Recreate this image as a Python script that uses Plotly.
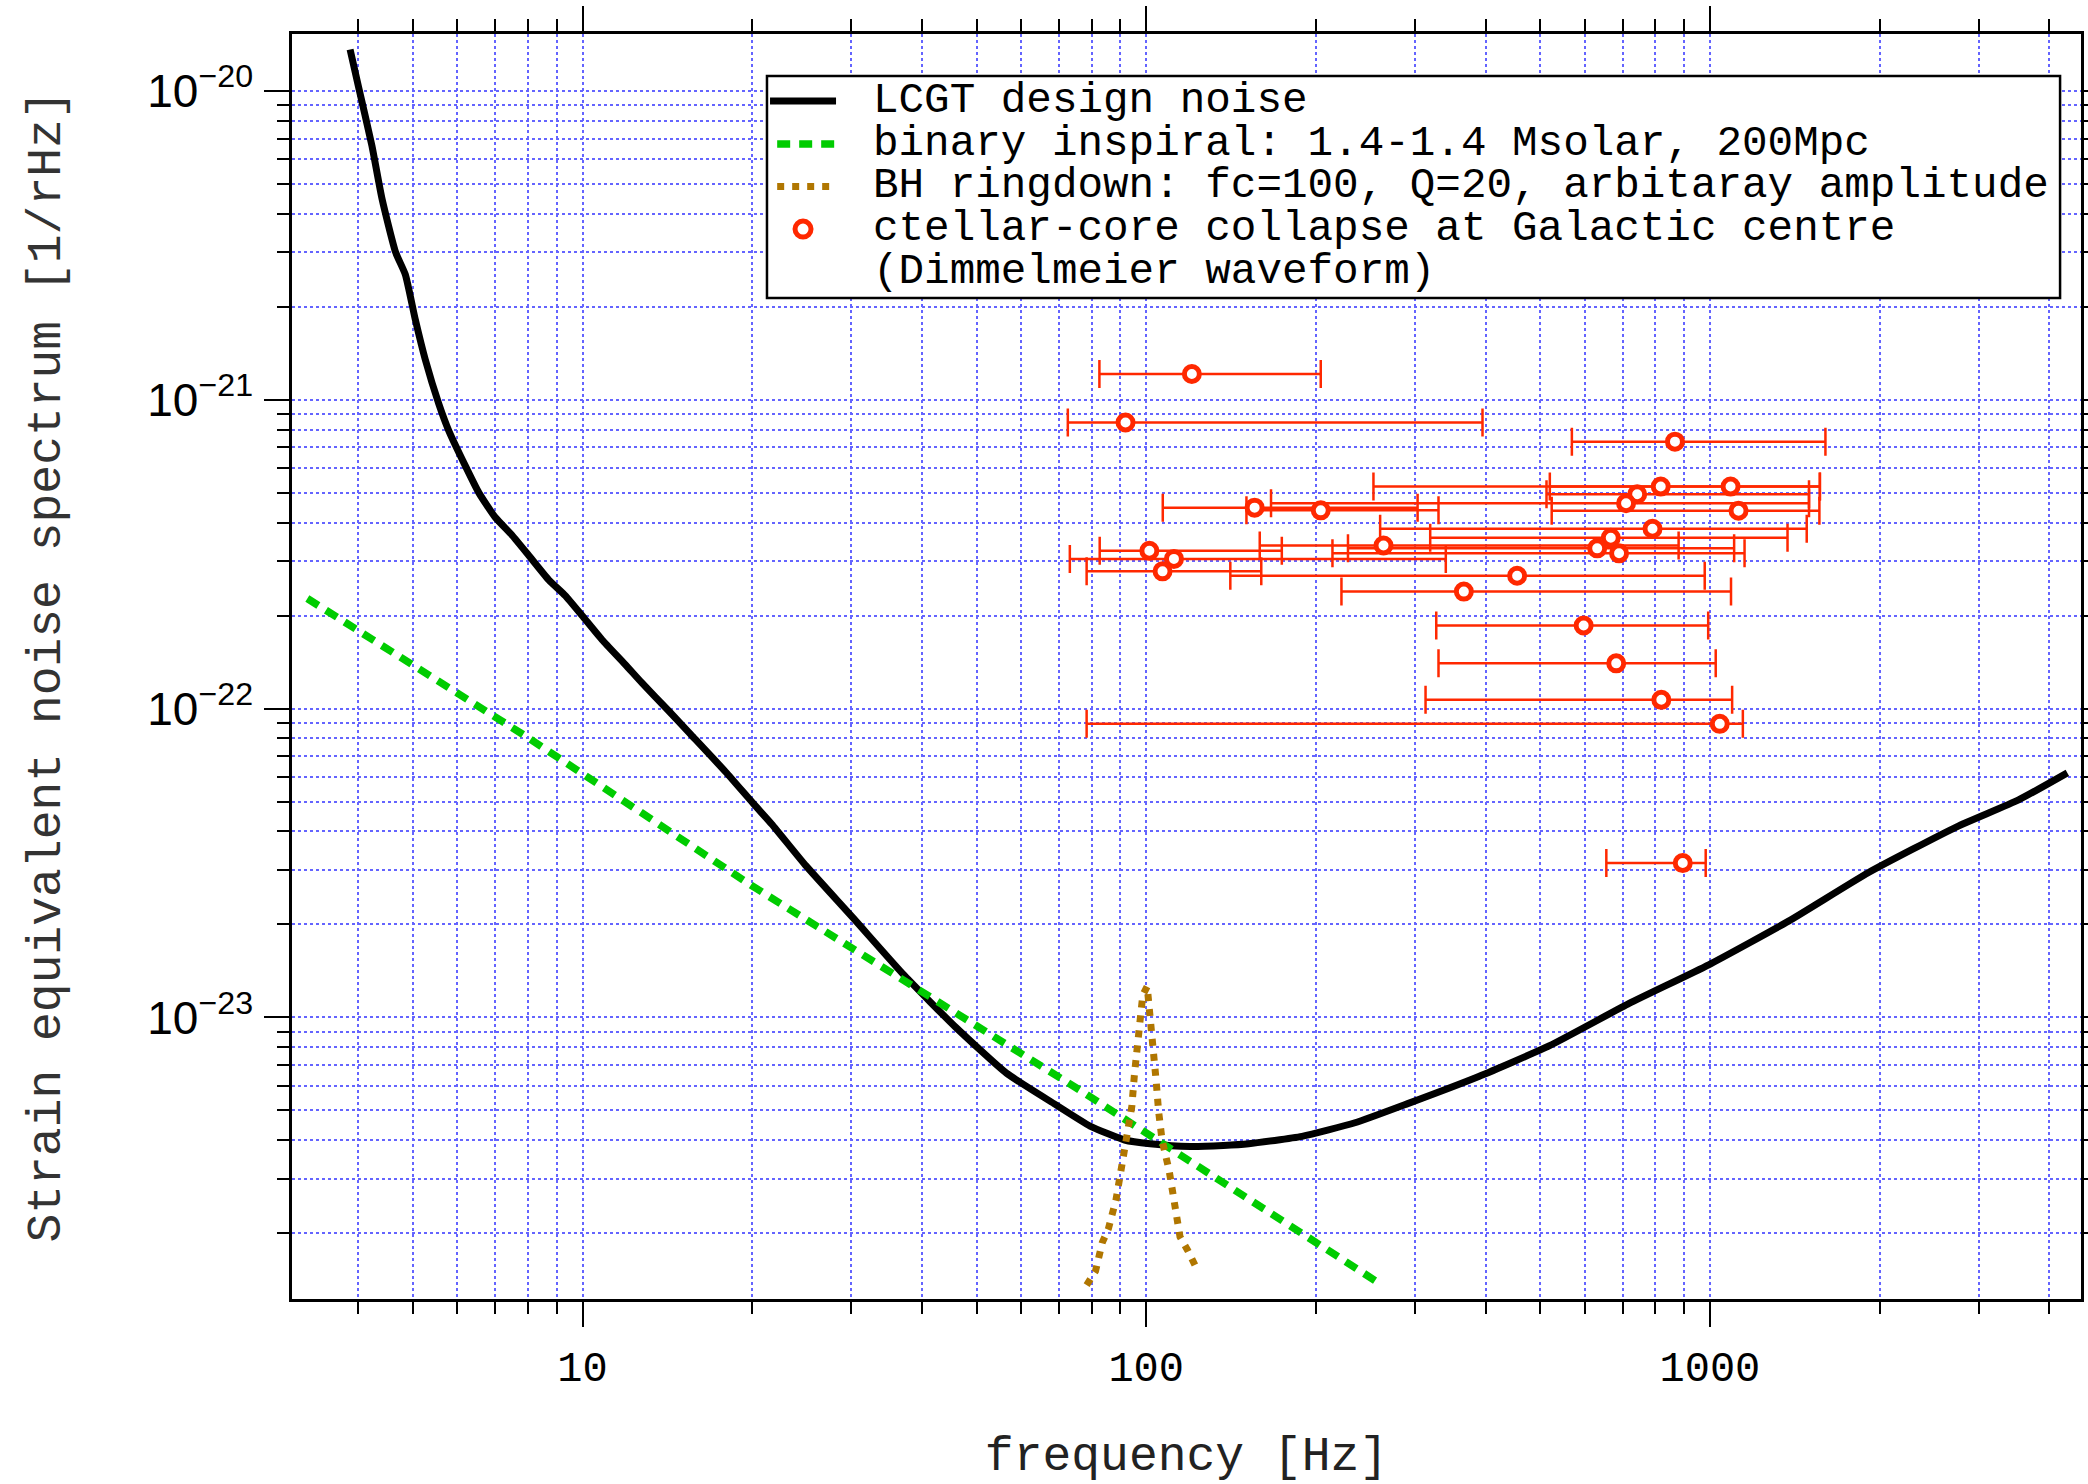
import plotly.graph_objects as go

# LCGT design strain noise (amplitude spectral density, 1/rHz)
noise_freq = [3.87, 4.01, 4.23, 4.41, 4.66, 4.85, 5.05, 5.26, 5.56, 5.79, 6.2, 6.55, 7.0, 7.5,
              8.03, 8.71, 9.32, 9.98, 10.83, 11.9, 12.75, 14.2, 15.6, 17.95, 20.1, 21.65, 24.9,
              30.2, 37.2, 45.9, 56.5, 68.6, 79.5, 91.6, 101.6, 119.6, 137, 152, 189, 234.6, 291,
              389, 519.5, 719, 995, 1379, 1909, 2740, 3528, 4306]
noise_asd = [1.36e-20, 1.02e-20, 6.65e-21, 4.46e-21, 3.0e-21, 2.54e-21, 1.82e-21, 1.35e-21,
             9.69e-22, 7.94e-22, 6.09e-22, 4.99e-22, 4.16e-22, 3.64e-22, 3.13e-22, 2.61e-22,
             2.32e-22, 2.0e-22, 1.67e-22, 1.39e-22, 1.21e-22, 9.85e-23, 8.2e-23, 6.23e-23,
             4.92e-23, 4.23e-23, 3.1e-23, 2.1e-23, 1.37e-23, 9.3e-24, 6.6e-24, 5.26e-24,
             4.45e-24, 4.01e-24, 3.9e-24, 3.82e-24, 3.85e-24, 3.9e-24, 4.12e-24, 4.56e-24,
             5.26e-24, 6.44e-24, 8.1e-24, 1.11e-23, 1.48e-23, 2.05e-23, 2.94e-23, 4.14e-23,
             5.06e-23, 6.19e-23]

# Binary inspiral, 1.4-1.4 Msolar at 200 Mpc
inspiral_freq = [3.25, 7.96, 19.9, 45.9, 76.4, 262]
inspiral_amp = [2.27e-22, 8.1e-23, 2.68e-23, 1.04e-23, 5.8e-24, 1.36e-24]

# BH ringdown, fc=100 Hz, Q=20
ringdown_freq = [78.4, 81.3, 83.6, 85.7, 88.4, 90.2, 92.3, 94.3, 95.3, 96.4, 97.5, 98.6, 100.4,
                 101.9, 102.9, 104.1, 105.2, 106.7, 109.8, 112.5, 114.8, 118.5, 121.2, 123.7]
ringdown_amp = [1.36e-24, 1.51e-24, 1.87e-24, 2.07e-24, 2.57e-24, 3.2e-24, 4.0e-24, 5.15e-24,
                6.53e-24, 8.27e-24, 1.05e-23, 1.18e-23, 1.26e-23, 9.9e-24, 7.96e-24, 6.29e-24,
                4.96e-24, 4.0e-24, 3.2e-24, 2.37e-24, 1.95e-24, 1.76e-24, 1.62e-24, 1.5e-24]

# Stellar-core collapse at the Galactic centre (Dimmelmeier waveforms):
# characteristic frequency, amplitude and the frequency band of each model
collapse_freq = [120.5, 91.9, 867, 818, 1088, 743, 710, 1124, 155.7, 204, 791, 667, 263.6,
                 631, 690, 101.3, 112, 106.9, 455, 366, 597, 682, 820, 1041, 895]
collapse_amp = [1.21e-21, 8.43e-22, 7.31e-22, 5.23e-22, 5.23e-22, 4.94e-22, 4.62e-22, 4.37e-22,
                4.47e-22, 4.38e-22, 3.82e-22, 3.57e-22, 3.37e-22, 3.3e-22, 3.18e-22, 3.24e-22,
                3.05e-22, 2.78e-22, 2.69e-22, 2.39e-22, 1.856e-22, 1.40e-22, 1.067e-22,
                8.92e-23, 3.16e-23]
collapse_fmin = [82.6, 72.6, 569, 253, 520, 513, 166.5, 524, 107, 150.6, 260, 319, 159, 228,
                 214, 82.7, 73.2, 78.4, 141, 222, 327, 330, 313, 78.4, 655]
collapse_fmax = [204, 395, 1603, 1567, 1567, 1499, 1499, 1564, 303, 330, 1485, 1373, 880, 1104,
                 1152, 174, 340, 160, 979, 1090, 993, 1024, 1095, 1144, 983]

x_tick_vals = [10, 100, 1000]
x_tick_text = ["10", "100", "1000"]
y_tick_vals = [1e-20, 1e-21, 1e-22, 1e-23]
y_tick_text = ["10<sup>\u221220</sup>", "10<sup>\u221221</sup>",
               "10<sup>\u221222</sup>", "10<sup>\u221223</sup>"]

legend_labels = ["LCGT design noise",
                 "binary inspiral: 1.4-1.4 Msolar, 200Mpc",
                 "BH ringdown: fc=100, Q=20, arbitaray amplitude",
                 "ctellar-core collapse at Galactic centre",
                 "(Dimmelmeier waveform)"]

BLACK = "#000000"
GREEN = "#00cc00"
BROWN = "#b07600"
RED = "#ff2800"
GRID = "rgb(100,100,255)"
MONO = "Liberation Mono, Courier New, monospace"
SANS = "Liberation Sans, Arial, sans-serif"

err_plus = [hi - f for f, hi in zip(collapse_freq, collapse_fmax)]
err_minus = [f - lo for f, lo in zip(collapse_freq, collapse_fmin)]

fig = go.Figure()
fig.add_trace(go.Scatter(x=noise_freq, y=noise_asd, mode="lines", name=legend_labels[0],
                         line=dict(color=BLACK, width=7, shape="spline", smoothing=0.5)))
fig.add_trace(go.Scatter(x=inspiral_freq, y=inspiral_amp, mode="lines", name=legend_labels[1],
                         line=dict(color=GREEN, width=7.5, dash="13px,9px")))
fig.add_trace(go.Scatter(x=ringdown_freq, y=ringdown_amp, mode="lines", name=legend_labels[2],
                         line=dict(color=BROWN, width=7, dash="7px,8px")))
fig.add_trace(go.Scatter(x=collapse_freq, y=collapse_amp, mode="markers", name=legend_labels[3],
                         marker=dict(symbol="circle", size=15, color="white",
                                     line=dict(color=RED, width=5)),
                         error_x=dict(type="data", symmetric=False, array=err_plus,
                                      arrayminus=err_minus, color=RED, thickness=2.5, width=14)))

# minor tick positions (2..9 in every decade)
x_minor = [m * 10 ** e for e in range(0, 4) for m in range(2, 10)]
y_minor = [m * 10.0 ** e for e in range(-25, -19) for m in range(2, 10)]

axis_common = dict(type="log", showline=True, linecolor=BLACK, linewidth=2.5, mirror="ticks",
                   ticks="outside", ticklen=25, tickwidth=2, tickcolor=BLACK, automargin=False,
                   showgrid=True, gridcolor=GRID, griddash="dot", gridwidth=1.8, zeroline=False)
minor_common = dict(tickmode="array", ticks="outside", ticklen=12, tickwidth=2, tickcolor=BLACK,
                    showgrid=True, gridcolor=GRID, griddash="dot", gridwidth=1.8)

fig.update_xaxes(**axis_common, range=[0.48466, 3.6583], tickmode="array",
                 tickvals=x_tick_vals, ticktext=x_tick_text, ticklabelstandoff=4,
                 tickfont=dict(family=MONO, size=42, color=BLACK),
                 minor=dict(**minor_common, tickvals=x_minor),
                 title=dict(text="frequency [Hz]", standoff=48,
                            font=dict(family=MONO, size=48, color="#222222")))
fig.update_yaxes(**axis_common, range=[-23.9116, -19.8164], tickmode="array",
                 tickvals=y_tick_vals, ticktext=y_tick_text, ticklabelstandoff=2,
                 tickfont=dict(family=SANS, size=46, color=BLACK),
                 minor=dict(**minor_common, tickvals=y_minor),
                 title=dict(text="Strain equivalent noise spectrum [1/rHz]", standoff=72,
                            font=dict(family=MONO, size=48, color="#333333")))

# Legend box drawn as a framed panel with line / marker samples
box_x0, box_x1, box_y0, box_y1 = 0.2655, 0.9883, 0.7913, 0.9668
row_y = [0.9470, 0.9130, 0.8795, 0.8458, 0.8122]
text_x = 0.3235
samp_x0, samp_x1 = 0.2672, 0.3041

shapes = [dict(type="rect", xref="paper", yref="paper", x0=box_x0, x1=box_x1, y0=box_y0,
               y1=box_y1, line=dict(color=BLACK, width=2.5), fillcolor="white", layer="above"),
          dict(type="line", xref="paper", yref="paper", x0=samp_x0, x1=samp_x1, y0=row_y[0],
               y1=row_y[0], line=dict(color=BLACK, width=7)),
          dict(type="line", xref="paper", yref="paper", x0=samp_x0 + 0.004, x1=samp_x1,
               y0=row_y[1], y1=row_y[1], line=dict(color=GREEN, width=7.5, dash="13px,9px")),
          dict(type="line", xref="paper", yref="paper", x0=samp_x0 + 0.004, x1=samp_x1,
               y0=row_y[2], y1=row_y[2], line=dict(color=BROWN, width=7, dash="7px,8px")),
          dict(type="circle", xref="paper", yref="paper", xsizemode="pixel", ysizemode="pixel",
               xanchor=(samp_x0 + samp_x1) / 2, yanchor=row_y[3], x0=-8, x1=8, y0=-8, y1=8,
               line=dict(color=RED, width=5), fillcolor="white")]

annotations = [dict(text=lab, xref="paper", yref="paper", x=text_x, y=yy, xanchor="left",
                    yanchor="middle", showarrow=False,
                    font=dict(family=MONO, size=42.6, color=BLACK))
               for lab, yy in zip(legend_labels, row_y)]

fig.update_layout(width=2088, height=1484, autosize=False,
                  margin=dict(l=292, r=7, t=34, b=185),
                  paper_bgcolor="white", plot_bgcolor="white",
                  showlegend=False, shapes=shapes, annotations=annotations)

fig.write_html("out.html")
